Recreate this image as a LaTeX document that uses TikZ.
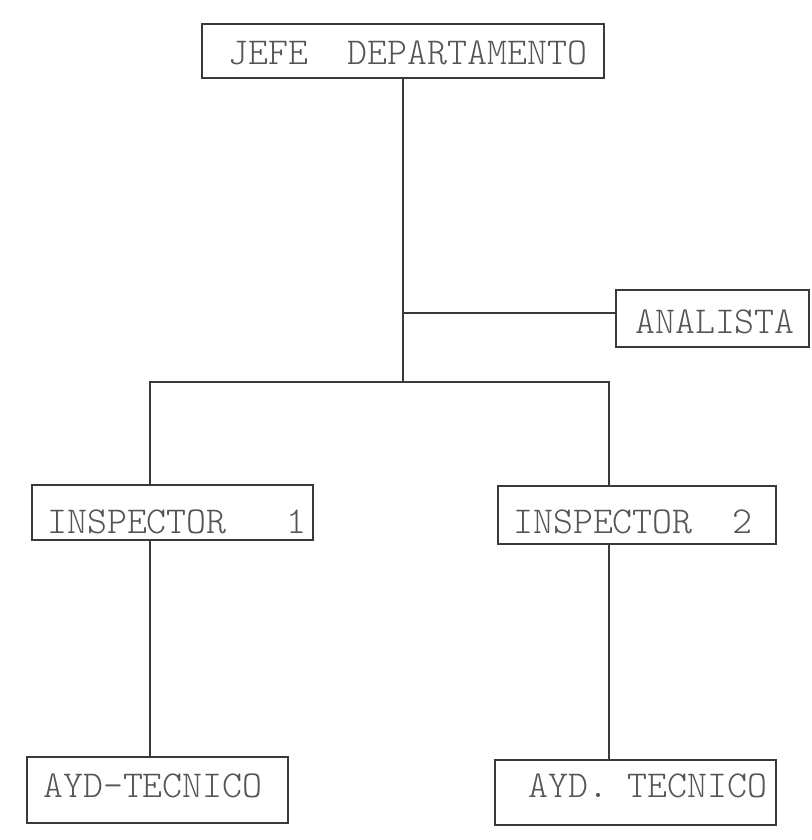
\documentclass[tikz,border=0pt]{standalone}
\definecolor{ink}{HTML}{3A3A3A}
\definecolor{type}{HTML}{555555}
\begin{document}
\begin{tikzpicture}[x=1pt,y=-1pt,
  box/.style={draw=ink, line width=2.2pt, rectangle, inner sep=0pt},
  lbl/.style={inner sep=0pt, anchor=base west, text=type,
    font=\fontsize{38}{40}\selectfont\ttfamily\fontseries{l}\selectfont},
  link/.style={draw=ink, line width=1.6pt}]
\useasboundingbox (0,0) rectangle (811,840);
\fill[white] (0,0) rectangle (811,840);

% boxes of the chart
\node[box, minimum width=402pt, minimum height=54pt] (jefe) at (403,51) {};
\node[box, minimum width=193pt, minimum height=57pt] (analista) at (712.5,318.5) {};
\node[box, minimum width=281pt, minimum height=55pt] (insp1) at (172.5,512.5) {};
\node[box, minimum width=278pt, minimum height=58pt] (insp2) at (637,515) {};
\node[box, minimum width=261pt, minimum height=66pt] (ayd1) at (157.5,790) {};
\node[box, minimum width=281pt, minimum height=65pt] (ayd2) at (635.5,792.5) {};

% titles
\node[lbl] (tjefe) at (228,65) {JEFE~~DEPARTAMENTO};
\node[lbl] (tanal) at (635,333) {ANALISTA};
\node[lbl] (tin1) at (47,533) {INSPECTOR~~~1};
\node[lbl] (tin2) at (513,533) {INSPECTOR~~2};
\node[lbl] (tay1) at (43,797) {AYD-TECNICO};
\node[lbl] (tay2) at (528,797) {AYD.~TECNICO};

% junction points
\coordinate (bus) at (403,382);
\coordinate (bl) at (150,382);
\coordinate (br) at (609,382);
\coordinate (ja) at (403,313);

% connectors
\draw[link] (jefe.south) -- (bus);
\draw[link] (ja) -- (ja -| analista.west);
\draw[link] (bl |- insp1.north) -- (bl) -- (br) -- (br |- insp2.north);
\draw[link] (insp1.south -| bl) -- (ayd1.north -| bl);
\draw[link] (insp2.south -| br) -- (ayd2.north -| br);
\end{tikzpicture}
\end{document}
